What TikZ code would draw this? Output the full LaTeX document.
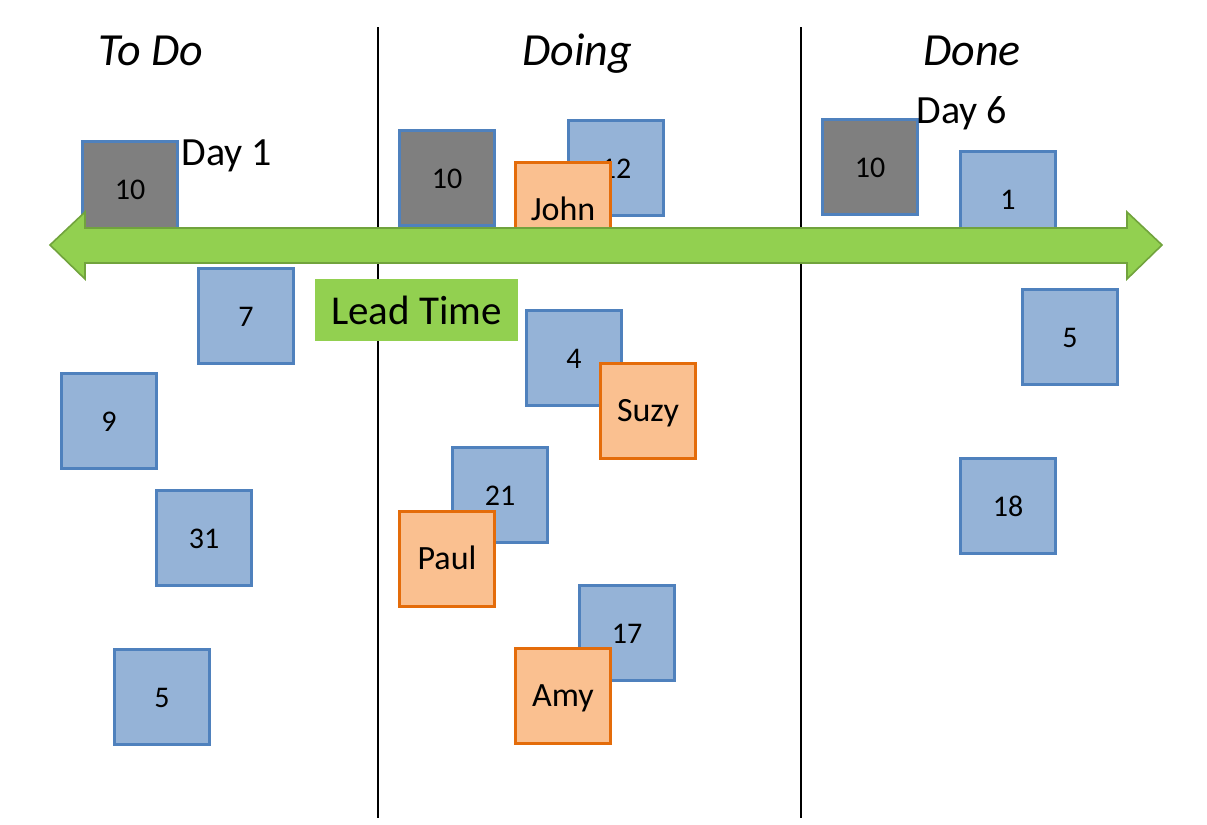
\documentclass[tikz,border=0pt]{standalone}
\usepackage{fontspec}
\setmainfont{Carlito}
\usepackage{tikz}

\definecolor{noteBlue}{HTML}{95B3D7}
\definecolor{noteEdge}{HTML}{4F81BD}
\definecolor{noteGrey}{HTML}{7F7F7F}
\definecolor{nameFill}{HTML}{FAC090}
\definecolor{nameEdge}{HTML}{E46C0A}
\definecolor{leadGreen}{HTML}{92D050}
\definecolor{leadEdge}{HTML}{71A33D}

\tikzset{
  sticky/.style={draw=noteEdge, line width=1.4pt, minimum size=47.4pt, inner sep=0pt,
    text height=1em, text depth=0pt, font=\fontsize{15}{18}\selectfont},
  blue sticky/.style={sticky, fill=noteBlue},
  grey sticky/.style={sticky, fill=noteGrey},
  name sticky/.style={sticky, draw=nameEdge, fill=nameFill, font=\fontsize{17}{20}\selectfont},
  heading/.style={anchor=base, font=\fontsize{23}{27}\selectfont\itshape},
  day/.style={anchor=base west, inner sep=0pt, font=\fontsize{20}{24}\selectfont},
}

\begin{document}
\begin{tikzpicture}[x=0.5pt, y=-0.5pt]
  \useasboundingbox (0,0) rectangle (1207,825);
  % column separators
  \draw[line width=1.4pt] (378,27)--(378,818);
  \draw[line width=1.4pt] (801,27)--(801,818);
  % column headings
  \node[heading] (todo) at (151,65) {To Do};
  \node[heading] (doing) at (577,65) {Doing};
  \node[heading] (done) at (972,65) {Done};
  % to do
  \node[grey sticky] (todoTen) at (130,189) {10};
  \foreach \nm/\cx/\cy/\lab in {Seven/246/316/7, Nine/109/421/9, ThirtyOne/204/538/31, Five/162/697/5}
    \node[blue sticky] (todo\nm) at (\cx,\cy) {\lab};
  % doing
  \node[grey sticky] (doingTen) at (447,178) {10};
  \node[blue sticky] (doingTwelve) at (616,168) {12};
  \node[name sticky] (john) at (563,210) {John};
  \node[blue sticky] (doingFour) at (574,358) {4};
  \node[name sticky] (suzy) at (648,411) {Suzy};
  \node[blue sticky] (doingTwentyOne) at (500,495) {21};
  \node[name sticky] (paul) at (447,559) {Paul};
  \node[blue sticky] (doingSeventeen) at (627,633) {17};
  \node[name sticky] (amy) at (563,696) {Amy};
  % done
  \node[grey sticky] (doneTen) at (870,167) {10};
  \foreach \nm/\cx/\cy/\lab in {One/1008/199/1, Five/1070/337/5, Eighteen/1008/506/18}
    \node[blue sticky] (done\nm) at (\cx,\cy) {\lab};
  % days
  \node[day] (dayOne) at (181,165) {Day 1};
  \node[day] (daySix) at (916,123) {Day 6};
  % lead time arrow
  \draw[fill=leadGreen, draw=leadEdge, line width=0.8pt, line join=miter]
    (50,245)--(85,212)--(85,228)--(1127,228)--(1127,212)--(1162,245)--(1127,279)
    --(1127,263)--(85,263)--(85,279)--cycle;
  \node[fill=leadGreen, minimum width=101.5pt, minimum height=31pt, inner sep=0pt,
    font=\fontsize{20.5}{24}\selectfont] (lead) at (416.5,310) {Lead Time};
\end{tikzpicture}
\end{document}
